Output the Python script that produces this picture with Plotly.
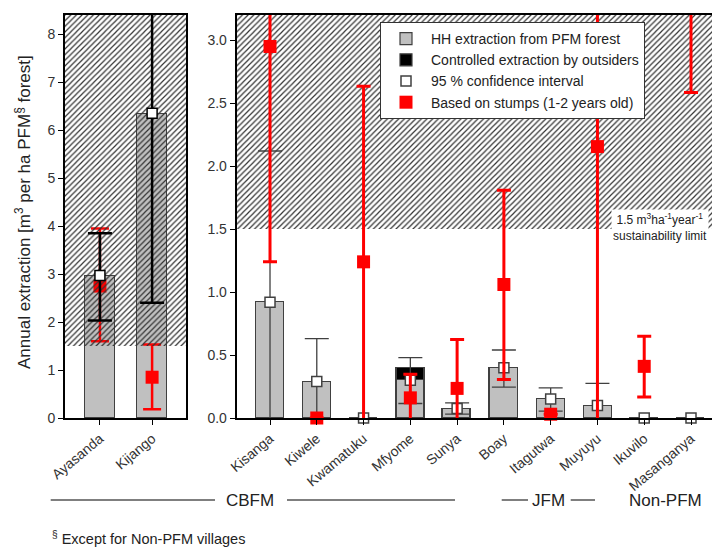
import plotly.graph_objects as go

# ---------------- data ----------------
SUSTAINABILITY_LIMIT = 1.5

left_villages = ["Ayasanda", "Kijango"]
left_hh = [2.95, 6.33]
left_ci_mid = [2.97, 6.35]
left_ci_low = [2.03, 2.40]
left_ci_high = [3.85, 9.50]
left_stump = [2.75, 0.85]
left_stump_low = [1.60, 0.18]
left_stump_high = [3.95, 1.53]

right_villages = ["Kisanga", "Kiwele", "Kwamatuku", "Mfyome", "Sunya",
                  "Boay", "Itagutwa", "Muyuyu", "Ikuvilo", "Masanganya"]
right_hh = [0.92, 0.285, 0.0, 0.30, 0.07, 0.40, 0.15, 0.095, 0.0, 0.0]
right_outsiders = [None, None, None, 0.10, None, None, None, None, None, None]
right_ci_mid = [0.92, 0.29, 0.0, 0.30, 0.075, 0.40, 0.15, 0.10, 0.0, 0.0]
right_ci_low = [-0.05, -0.05, None, 0.115, 0.03, 0.245, 0.055, -0.05, None, None]
right_ci_high = [2.12, 0.63, None, 0.48, 0.12, 0.54, 0.24, 0.275, None, None]
right_stump = [2.95, 0.0, 1.24, 0.16, 0.235, 1.06, 0.03, 2.155, 0.41, 3.80]
right_stump_low = [1.24, None, -0.05, -0.05, -0.05, 0.305, None, -0.05, 0.167, 2.585]
right_stump_high = [4.50, None, 2.635, 0.347, 0.623, 1.809, None, 4.50, 0.649, 4.50]

LEFT_YMAX = 8.4
RIGHT_YMAX = 3.2

# ---------------- helpers ----------------
OFF = 8                      # page body margin
W, H = 720 - OFF, 547 - OFF
def px(x):
    return (x - OFF) / W
def py(y):
    return 1 - (y - OFF) / H

def plus(mid, high):
    return [None if (h is None or m is None) else h - m for m, h in zip(mid, high)]
def minus(mid, low):
    return [None if (l is None or m is None) else m - l for m, l in zip(mid, low)]

FONT = "Liberation Sans, Arial, sans-serif"
GREY = "#c0c0c0"
EDGE = "#404040"
RED = "#ff0000"

lx = list(range(len(left_villages)))
rx = list(range(len(right_villages)))

fig = go.Figure()

# bars (right panel first so legend entries come first)
fig.add_trace(go.Bar(x=rx, y=right_hh, xaxis="x2", yaxis="y2", width=0.6,
                     marker=dict(color=GREY, line=dict(color=EDGE, width=1.2)),
                     name="HH extraction from PFM forest", hoverinfo="skip"))
fig.add_trace(go.Bar(x=rx, y=right_outsiders, xaxis="x2", yaxis="y2", width=0.6,
                     marker=dict(color="black", line=dict(color=EDGE, width=1.2)),
                     name="Controlled extraction by outsiders", hoverinfo="skip"))
fig.add_trace(go.Bar(x=lx, y=left_hh, xaxis="x", yaxis="y", width=0.58,
                     marker=dict(color=GREY, line=dict(color=EDGE, width=1.2)),
                     showlegend=False, hoverinfo="skip"))

# left stumps (drawn under the hatch)
fig.add_trace(go.Scatter(x=lx, y=left_stump, xaxis="x", yaxis="y", mode="markers",
                         marker=dict(size=1, color="rgba(0,0,0,0)"),
                         error_y=dict(type="data", array=plus(left_stump, left_stump_high),
                                      arrayminus=minus(left_stump, left_stump_low),
                                      color=RED, thickness=2.5, width=9),
                         showlegend=False, hoverinfo="skip"))
fig.add_trace(go.Scatter(x=lx, y=left_stump, xaxis="x", yaxis="y", mode="markers",
                         marker=dict(symbol="square", size=13, color=RED),
                         cliponaxis=False, showlegend=False, hoverinfo="skip"))

# hatched "unsustainable" zones
hatch = dict(shape="/", size=4, solidity=0.3, fgcolor="#333333", bgcolor="rgba(0,0,0,0)")
fig.add_trace(go.Scatter(x=[-5, -5, 5, 5], y=[SUSTAINABILITY_LIMIT, 20, 20, SUSTAINABILITY_LIMIT],
                         xaxis="x", yaxis="y", mode="lines", fill="toself",
                         fillcolor="rgba(0,0,0,0)", fillpattern=hatch,
                         line=dict(width=0), showlegend=False, hoverinfo="skip"))
fig.add_trace(go.Scatter(x=[-5, -5, 20, 20], y=[SUSTAINABILITY_LIMIT, 20, 20, SUSTAINABILITY_LIMIT],
                         xaxis="x2", yaxis="y2", mode="lines", fill="toself",
                         fillcolor="rgba(0,0,0,0)", fillpattern=hatch,
                         line=dict(width=0), showlegend=False, hoverinfo="skip"))

# left confidence intervals
fig.add_trace(go.Scatter(x=lx, y=left_ci_mid, xaxis="x", yaxis="y", mode="markers",
                         marker=dict(size=1, color="rgba(0,0,0,0)"),
                         error_y=dict(type="data", array=plus(left_ci_mid, left_ci_high),
                                      arrayminus=minus(left_ci_mid, left_ci_low),
                                      color="black", thickness=2.5, width=12),
                         showlegend=False, hoverinfo="skip"))
fig.add_trace(go.Scatter(x=lx, y=left_ci_mid, xaxis="x", yaxis="y", mode="markers",
                         marker=dict(symbol="square", size=10, color="white",
                                     line=dict(color="black", width=1.5)),
                         cliponaxis=False, showlegend=False, hoverinfo="skip"))

# right confidence intervals
fig.add_trace(go.Scatter(x=rx, y=right_ci_mid, xaxis="x2", yaxis="y2", mode="markers",
                         marker=dict(size=1, color="rgba(0,0,0,0)"),
                         error_y=dict(type="data", array=plus(right_ci_mid, right_ci_high),
                                      arrayminus=minus(right_ci_mid, right_ci_low),
                                      color=EDGE, thickness=1.3, width=12),
                         showlegend=False, hoverinfo="skip"))
fig.add_trace(go.Scatter(x=rx, y=right_ci_mid, xaxis="x2", yaxis="y2", mode="markers",
                         marker=dict(symbol="square", size=10, color="white",
                                     line=dict(color=EDGE, width=1.5)),
                         cliponaxis=False, name="95 % confidence interval", hoverinfo="skip"))

# right stumps
fig.add_trace(go.Scatter(x=rx, y=right_stump, xaxis="x2", yaxis="y2", mode="markers",
                         marker=dict(size=1, color="rgba(0,0,0,0)"),
                         error_y=dict(type="data", array=plus(right_stump, right_stump_high),
                                      arrayminus=minus(right_stump, right_stump_low),
                                      color=RED, thickness=3, width=7),
                         showlegend=False, hoverinfo="skip"))
fig.add_trace(go.Scatter(x=rx, y=[v if v <= RIGHT_YMAX else None for v in right_stump],
                         xaxis="x2", yaxis="y2", mode="markers",
                         marker=dict(symbol="square", size=13, color=RED),
                         cliponaxis=False, name="Based on stumps (1-2 years old)", hoverinfo="skip"))

# ---------------- layout ----------------
ydom = [py(418), py(15)]
common_axis = dict(showline=True, linecolor="black", linewidth=2, ticks="outside",
                   ticklen=5, tickcolor="black", showgrid=False, zeroline=False,
                   automargin=False, tickfont=dict(family=FONT, size=14, color="#333"))

fig.update_layout(
    width=W, height=H, template="none",
    margin=dict(l=0, r=0, t=0, b=0),
    paper_bgcolor="white", plot_bgcolor="white",
    barmode="stack", bargap=0,
    font=dict(family=FONT, size=14, color="#222"),
    xaxis=dict(common_axis, domain=[px(65), px(186)], range=[-0.67, 1.65], anchor="y",
               tickvals=lx, ticktext=left_villages, tickangle=-40, mirror=True),
    yaxis=dict(common_axis, domain=ydom, range=[0, LEFT_YMAX], anchor="x",
               dtick=1, tick0=0, mirror=True),
    xaxis2=dict(common_axis, domain=[px(236.7), 1.0], range=[-0.712, 9.62], anchor="y2",
                tickvals=rx, ticktext=right_villages, tickangle=-40, mirror=True),
    yaxis2=dict(common_axis, domain=ydom, range=[0, RIGHT_YMAX], anchor="x2",
                dtick=0.5, tick0=0, tickformat=".1f", mirror=False),
    legend=dict(x=px(380), y=py(22), xanchor="left", yanchor="top",
                bgcolor="white", bordercolor="#333", borderwidth=1,
                traceorder="normal", font=dict(family=FONT, size=14, color="#222"),
                itemwidth=40, tracegroupgap=0),
    showlegend=True,
)

annotations = [
    dict(text="Annual extraction [m<sup>3</sup> per ha PFM<sup>§</sup> forest]",
         x=px(23), y=py(212), xref="paper", yref="paper", textangle=-90,
         showarrow=False, font=dict(family=FONT, size=17, color="#222"),
         xanchor="center", yanchor="middle"),
    dict(text="1.5 m<sup>3</sup>ha<sup>-1</sup>year<sup>-1</sup><br>sustainability limit",
         x=px(660), y=py(227), xref="paper", yref="paper", showarrow=False,
         bgcolor="white", borderpad=1, font=dict(family=FONT, size=12, color="#222"),
         xanchor="center", yanchor="middle"),
    dict(text="CBFM", x=px(250), y=py(500), xref="paper", yref="paper", showarrow=False,
         font=dict(family=FONT, size=17, color="#222"), xanchor="center", yanchor="middle"),
    dict(text="JFM", x=px(548), y=py(500), xref="paper", yref="paper", showarrow=False,
         font=dict(family=FONT, size=17, color="#222"), xanchor="center", yanchor="middle"),
    dict(text="Non-PFM", x=px(665), y=py(500), xref="paper", yref="paper", showarrow=False,
         font=dict(family=FONT, size=17, color="#222"), xanchor="center", yanchor="middle"),
    dict(text="<sup>§</sup> Except for Non-PFM villages", x=px(50), y=py(538),
         xref="paper", yref="paper", showarrow=False,
         font=dict(family=FONT, size=14.5, color="#222"), xanchor="left", yanchor="middle"),
]
fig.update_layout(annotations=annotations)

group_lines = [(50.7, 215), (287, 455), (501.7, 528), (570.7, 595)]
for x0, x1 in group_lines:
    fig.add_shape(type="line", xref="paper", yref="paper",
                  x0=px(x0), x1=px(x1), y0=py(500), y1=py(500),
                  line=dict(color="#555", width=1.5))

fig.write_html("out.html")
